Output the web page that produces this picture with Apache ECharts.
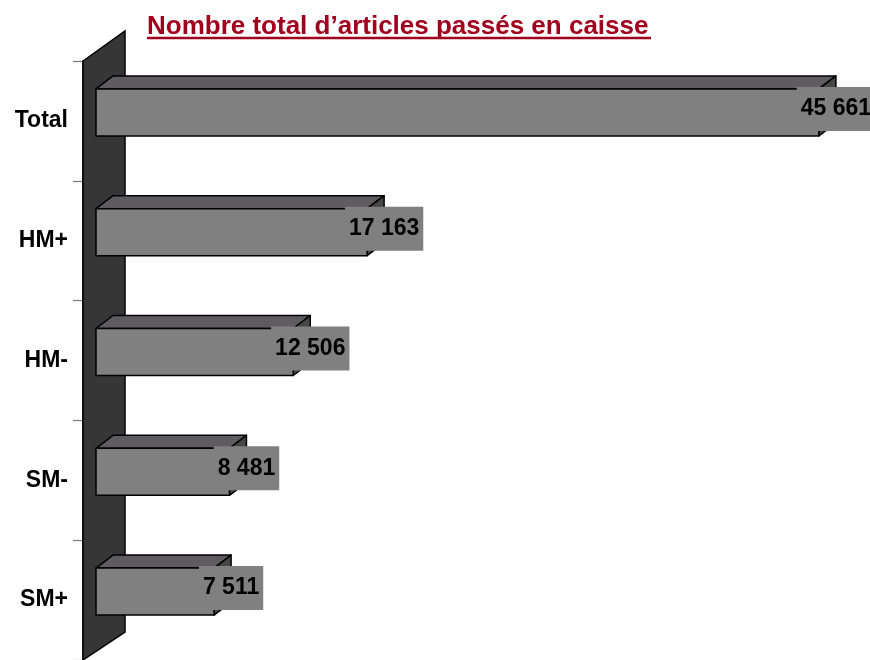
<!DOCTYPE html>
<html>
<head>
<meta charset="utf-8">
<script src="https://cdn.jsdelivr.net/npm/echarts@6/dist/echarts.min.js"></script>
<style>
  html, body { margin: 0; padding: 0; background: #fff; }
  #chart { width: 870px; height: 660px; }
</style>
</head>
<body>
<div id="chart"></div>
<script>
// Categories, top to bottom
const categories = ['Total', 'HM+', 'HM-', 'SM-', 'SM+'];
// Number of items scanned at checkout
const values = [45661, 17163, 12506, 8481, 7511];
const titleText = 'Nombre total d’articles passés en caisse';

const FONT = '"Liberation Sans", Arial, Helvetica, sans-serif';
const DEPTH_X = 17;
const DEPTH_Y = 13;

// "45661" -> "45 661"
function fmt(v) {
  return String(v).replace(/\B(?=(\d{3})+(?!\d))/g, ' ');
}

// Dark back wall running along the category axis
function renderWall(params, api) {
  const cs = params.coordSys;
  const x = cs.x, y = cs.y, h = cs.height;
  return {
    type: 'polygon',
    silent: true,
    shape: { points: [[x - 12, y], [x + 30, y - 30], [x + 30, y + h - 28], [x - 12, y + h]] },
    style: { fill: '#363636', stroke: '#000', lineWidth: 1.5 }
  };
}

// Extruded bar: front face, top face, right face and value tag
function renderBar(params, api) {
  const v = api.value(0);
  const idx = api.value(1);
  const start = api.coord([0, idx]);
  const end = api.coord([v, idx]);
  const x0 = start[0] + 1;
  const x1 = end[0];
  const cy = end[1];
  const yt = cy - 32;
  const yb = cy + 15;
  const edge = { stroke: '#000', lineWidth: 1.5, lineJoin: 'round' };
  return {
    type: 'group',
    children: [
      {
        type: 'polygon',
        shape: { points: [[x0, yt], [x0 + DEPTH_X, yt - DEPTH_Y], [x1 + DEPTH_X, yt - DEPTH_Y], [x1, yt]] },
        style: Object.assign({ fill: '#5e5c61' }, edge)
      },
      {
        type: 'polygon',
        shape: { points: [[x1, yt], [x1 + DEPTH_X, yt - DEPTH_Y], [x1 + DEPTH_X, yb - DEPTH_Y], [x1, yb]] },
        style: Object.assign({ fill: '#474747' }, edge)
      },
      {
        type: 'rect',
        shape: { x: x0, y: yt, width: x1 - x0, height: yb - yt },
        style: Object.assign({ fill: '#808080' }, edge)
      },
      {
        type: 'text',
        x: x1 + DEPTH_X,
        y: cy - 12,
        z2: 10,
        style: {
          text: fmt(v),
          font: 'bold 23px ' + FONT,
          fill: '#000',
          align: 'center',
          verticalAlign: 'middle',
          lineHeight: 26,
          backgroundColor: '#808080',
          padding: [6, 4, 12, 4]
        }
      }
    ]
  };
}

const chart = echarts.init(document.getElementById('chart'), null, { renderer: 'canvas' });

chart.setOption({
  animation: false,
  backgroundColor: '#fff',
  title: {
    text: titleText,
    left: 147,
    top: 14,
    padding: 0,
    textStyle: { fontFamily: FONT, fontSize: 26, fontWeight: 'bold', color: '#a0001e' }
  },
  graphic: [
    {
      type: 'line',
      shape: { x1: 147, y1: 38, x2: 651, y2: 38 },
      style: { stroke: '#a0001e', lineWidth: 2.5 }
    }
  ],
  grid: { left: 95, right: 14, top: 61, bottom: 0, containLabel: false },
  xAxis: {
    type: 'value',
    min: 0,
    max: 48000,
    show: false
  },
  yAxis: {
    type: 'category',
    data: categories,
    inverse: true,
    offset: 12,
    axisLine: { show: true, onZero: false, lineStyle: { color: '#000', width: 1.5 } },
    axisTick: { show: true, inside: false, length: 10, lineStyle: { color: '#7a7a7a', width: 1.2 } },
    axisLabel: {
      margin: 15,
      fontFamily: FONT,
      fontSize: 23,
      fontWeight: 'bold',
      color: '#000'
    },
    splitLine: { show: false }
  },
  series: [
    {
      type: 'custom',
      name: 'wall',
      silent: true,
      z: 1,
      clip: false,
      renderItem: renderWall,
      data: [[0, 0]],
      encode: { x: 0, y: 1 }
    },
    {
      type: 'custom',
      name: 'articles',
      z: 6,
      clip: false,
      renderItem: renderBar,
      data: values.map((v, i) => [v, i]),
      encode: { x: 0, y: 1 }
    }
  ]
});
</script>
</body>
</html>
